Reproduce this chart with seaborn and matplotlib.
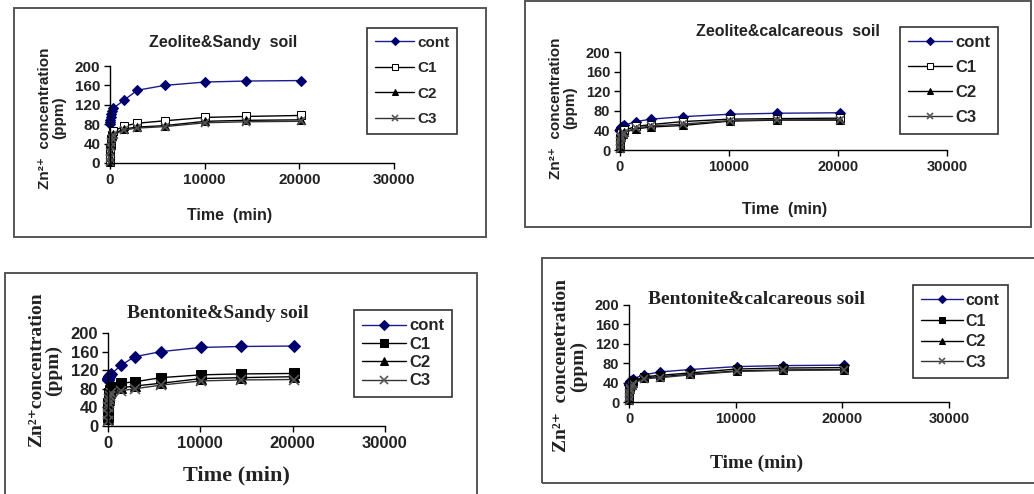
"""
Zn2+ release curves for zeolite / bentonite amended soils (four framed panels).
"""

import numpy as np
import pandas as pd
import matplotlib
matplotlib.use('Agg')
import matplotlib.pyplot as plt
from matplotlib.patches import Rectangle
import seaborn as sns

# sampling times (min)
time_min = [5, 15, 30, 60, 120, 240, 360, 1440, 2880, 5760, 10080, 14400, 20160]
series_names = ['cont', 'C1', 'C2', 'C3']

# Zeolite & sandy soil
zs_cont = [80, 84, 88, 95, 102, 108, 113, 129, 150, 160, 167, 169, 170]
zs_c1 = [5, 15, 28, 40, 50, 58, 65, 76, 82, 87, 94, 96, 98]
zs_c2 = [3, 12, 25, 37, 47, 55, 60, 70, 74, 77, 86, 88, 89]
zs_c3 = [2, 10, 22, 34, 44, 52, 58, 68, 72, 75, 83, 85, 86]

# Zeolite & calcareous soil
zc_cont = [38, 40, 42, 44, 46, 48, 50, 58, 63, 68, 73, 75, 76]
zc_c1 = [10, 18, 25, 30, 34, 37, 40, 48, 52, 58, 63, 64, 65]
zc_c2 = [5, 12, 20, 26, 30, 33, 36, 43, 47, 50, 59, 61, 61]
zc_c3 = [3, 10, 18, 24, 29, 32, 35, 45, 49, 53, 60, 62, 62]

# Bentonite & sandy soil
bs_cont = [100, 102, 104, 106, 108, 110, 112, 131, 149, 160, 169, 171, 172]
bs_c1 = [20, 35, 50, 60, 70, 78, 83, 92, 95, 104, 110, 112, 113]
bs_c2 = [15, 30, 45, 55, 63, 70, 75, 82, 86, 92, 102, 104, 106]
bs_c3 = [10, 25, 40, 50, 58, 65, 70, 76, 80, 88, 97, 99, 100]

# Bentonite & calcareous soil
bc_cont = [35, 38, 40, 42, 44, 46, 48, 56, 62, 67, 73, 75, 76]
bc_c1 = [10, 18, 25, 30, 35, 40, 43, 52, 55, 60, 68, 70, 71]
bc_c2 = [5, 12, 20, 26, 31, 36, 40, 50, 52, 57, 64, 66, 67]
bc_c3 = [3, 10, 18, 24, 29, 34, 38, 48, 50, 56, 63, 65, 66]

y_ticks = [0, 40, 80, 120, 160, 200]
x_ticks = [0, 10000, 20000, 30000]

W, H = 1034, 494
SANS = ['Liberation Sans', 'DejaVu Sans']
SERIF = ['Liberation Serif', 'DejaVu Serif']

sns.set_style('ticks')
plt.rcParams['font.family'] = SANS


def fx(x):
    return x / W


def fy(y):
    return 1 - y / H


def make_frame(fig, x0, y0, x1, y1):
    fig.add_artist(Rectangle((fx(x0), fy(y1)), fx(x1) - fx(x0), fy(y0) - fy(y1),
                             transform=fig.transFigure, fill=False,
                             edgecolor='#555555', linewidth=1.4))


panels = [
    dict(title='Zeolite&Sandy  soil', ylab='Zn²⁺  concentration\n(ppm)',
         data=[zs_cont, zs_c1, zs_c2, zs_c3], frame=(14, 8, 486, 237),
         axes=(110, 66, 394, 163), title_xy=(223, 42), xlab_xy=(230, 215),
         ylab_xy=(52, 118), leg_xy=(367, 28), c1_open=True, serif=False,
         fs_title=11.5, fs_lab=11.5, fs_ylab=11, fs_tick=11, fs_leg=11, leg_sp=0.75, ms=6),
    dict(title='Zeolite&calcareous  soil', ylab='Zn²⁺  concentration\n(ppm)',
         data=[zc_cont, zc_c1, zc_c2, zc_c3], frame=(525, 1, 1031, 227),
         axes=(620, 52, 947, 150), title_xy=(788, 32), xlab_xy=(785, 209),
         ylab_xy=(563, 108), leg_xy=(900, 27), c1_open=True, serif=False,
         fs_title=11.5, fs_lab=11.5, fs_ylab=11, fs_tick=10.5, fs_leg=12, leg_sp=0.6, ms=6),
    dict(title='Bentonite&Sandy soil', ylab='Zn²⁺concentration\n(ppm)',
         data=[bs_cont, bs_c1, bs_c2, bs_c3], frame=(5, 273, 477, 520),
         axes=(108, 333, 385, 426), title_xy=(218, 313), xlab_xy=(236, 475),
         ylab_xy=(45, 370), leg_xy=(354, 310), c1_open=False, serif=True,
         fs_title=14, fs_lab=16, fs_ylab=14, fs_tick=12, fs_leg=12, leg_sp=0.2, ms=7),
    dict(title='Bentonite&calcareous soil', ylab='Zn²⁺  concenetration\n(ppm)',
         data=[bc_cont, bc_c1, bc_c2, bc_c3], frame=(542, 258, 1060, 483),
         axes=(629, 305, 949, 402), title_xy=(757, 299), xlab_xy=(757, 463),
         ylab_xy=(570, 366), leg_xy=(913, 285), c1_open=False, serif=True,
         fs_title=14, fs_lab=14, fs_ylab=14, fs_tick=10.5, fs_leg=11.5, leg_sp=0.35, ms=6),
]

fig = plt.figure(figsize=(W / 100, H / 100), dpi=100)

for p in panels:
    make_frame(fig, *p['frame'])
    l, t, r, b = p['axes']
    ax = fig.add_axes([fx(l), fy(b), fx(r) - fx(l), fy(t) - fy(b)])

    styles = [
        dict(color='#1c1c8c', marker='D', mfc='#00006e', mec='#00006e', ms=p['ms'] - 0.5),
        dict(color='black', marker='s', mfc='white' if p['c1_open'] else 'black',
             mec='black', ms=p['ms']),
        dict(color='black', marker='^', mfc='black', mec='black', ms=p['ms']),
        dict(color='#333333', marker='x', mfc='#555555', mec='#555555', ms=p['ms'], mew=1.2),
    ]
    for name, vals, st in zip(series_names, p['data'], styles):
        df = pd.DataFrame({'time': time_min, 'conc': vals})
        sns.lineplot(data=df, x='time', y='conc', ax=ax, label=name,
                     estimator=None, sort=False, linewidth=1.0, clip_on=False, **st)

    ax.set_xlim(0, 30000)
    ax.set_ylim(0, 200)
    ax.set_xticks(x_ticks)
    ax.set_yticks(y_ticks)
    ax.set_facecolor('none')
    sns.despine(ax=ax)
    for s in ('left', 'bottom'):
        ax.spines[s].set_linewidth(1.0)
        ax.spines[s].set_color('black')
    ax.tick_params(direction='out', length=4, width=1, colors='black',
                   labelsize=p['fs_tick'], pad=3)
    for lab in ax.get_xticklabels() + ax.get_yticklabels():
        lab.set_fontweight('bold')
        lab.set_color('#222222')
        lab.set_family(SANS)

    txt_family = SERIF if p['serif'] else SANS
    ax.set_title(p['title'], fontsize=p['fs_title'], fontweight='bold', family=txt_family,
                 x=(p['title_xy'][0] - l) / (r - l), y=(b - p['title_xy'][1]) / (b - t),
                 va='center', ha='center', pad=0, color='#222222')
    ax.set_xlabel('Time  (min)' if not p['serif'] else 'Time (min)',
                  fontsize=p['fs_lab'], fontweight='bold', family=txt_family,
                  va='center', ha='center', color='#222222')
    ax.xaxis.set_label_coords(fx(p['xlab_xy'][0]), fy(p['xlab_xy'][1]), transform=fig.transFigure)
    ax.set_ylabel(p['ylab'], fontsize=p['fs_ylab'], fontweight='bold', family=txt_family,
                  va='center', ha='center', multialignment='center',
                  linespacing=1.0, color='#222222')
    ax.yaxis.set_label_coords(fx(p['ylab_xy'][0]), fy(p['ylab_xy'][1]), transform=fig.transFigure)

    ax.legend(loc='upper left', bbox_to_anchor=(fx(p['leg_xy'][0]), fy(p['leg_xy'][1])),
              bbox_transform=fig.transFigure, borderaxespad=0, frameon=True,
              fancybox=False, edgecolor='#333333', framealpha=1,
              prop=dict(family=SANS, weight='bold', size=p['fs_leg']),
              labelspacing=p['leg_sp'], handlelength=2.6, handletextpad=0.2,
              borderpad=0.5, markerscale=0.8)
    ax.get_legend().get_frame().set_linewidth(1.2)

fig.savefig('out.png', dpi=100)
